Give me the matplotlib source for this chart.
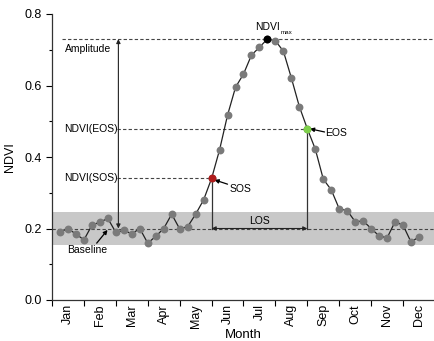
import matplotlib
matplotlib.use('Agg')
import matplotlib.pyplot as plt
import numpy as np

plt.rcParams['font.family'] = ['Liberation Sans', 'DejaVu Sans']

# 8-day composites, position in months (i * 0.25)
months = ['Jan', 'Feb', 'Mar', 'Apr', 'May', 'Jun', 'Jul', 'Aug', 'Sep', 'Oct', 'Nov', 'Dec']
ndvi = [0.191, 0.199, 0.185, 0.168, 0.209, 0.218, 0.228, 0.189, 0.195, 0.185,
        0.200, 0.159, 0.178, 0.200, 0.240, 0.199, 0.205, 0.240, 0.280, 0.340,
        0.420, 0.517, 0.595, 0.632, 0.685, 0.707, 0.730, 0.725, 0.696, 0.621,
        0.541, 0.479, 0.422, 0.338, 0.308, 0.255, 0.250, 0.219, 0.221, 0.200,
        0.179, 0.174, 0.219, 0.209, 0.162, 0.177]
t = [0.25 * (i + 1) for i in range(len(ndvi))]

baseline = 0.2
band = (0.155, 0.245)
i_sos, i_eos, i_max = 19, 31, 26

fig = plt.figure(figsize=(4.35, 3.41), dpi=100)
ax = fig.add_axes([52 / 435, 41 / 341, 383 / 435, 286 / 341])

ax.axhspan(band[0], band[1], color='#c8c8c8', lw=0, zorder=0)

dash = dict(color='#444444', lw=0.8, ls=(0, (3, 2)), zorder=1)
x_sos, x_eos = t[i_sos], t[i_eos]
amp = ndvi[i_max]
ax.plot([0, 12], [baseline, baseline], **dash)
ax.plot([0.31, 12], [amp, amp], **dash)
ax.plot([2.05, x_eos], [ndvi[i_eos]] * 2, **dash)
ax.plot([2.05, x_sos], [ndvi[i_sos]] * 2, **dash)

# vertical markers for SOS / EOS
ax.plot([x_sos, x_sos], [baseline, ndvi[i_sos]], color='#333333', lw=0.9, zorder=1)
ax.plot([x_eos, x_eos], [baseline, ndvi[i_eos]], color='#333333', lw=0.9, zorder=1)

# the series
ax.plot(t, ndvi, color='#222222', lw=0.9, zorder=2)
ax.scatter(t, ndvi, s=32, color='#7a7a7a', lw=0, zorder=3)
ax.scatter([x_sos], [ndvi[i_sos]], s=32, color='#b01c1c', lw=0, zorder=4)
ax.scatter([x_eos], [ndvi[i_eos]], s=32, color='#7ed04a', lw=0, zorder=4)
ax.scatter([t[i_max]], [amp], s=32, color='black', lw=0, zorder=4)

arr = dict(arrowstyle='<|-|>', color='#222222', lw=0.8, mutation_scale=6, shrinkA=0, shrinkB=0)
ax.annotate('', xy=(2.08, amp), xytext=(2.08, baseline), arrowprops=arr, zorder=5)
ax.annotate('', xy=(x_eos, baseline), xytext=(x_sos, baseline), arrowprops=arr, zorder=5)

pt = dict(arrowstyle='-|>', color='black', lw=0.9, mutation_scale=6, shrinkA=0, shrinkB=0)
fs = 7.5
ax.text(0.42, 0.702, 'Amplitude', fontsize=fs, va='center', ha='left')
ax.text(2.05, ndvi[i_eos], 'NDVI(EOS)', fontsize=fs, va='center', ha='right')
ax.text(2.05, ndvi[i_sos], 'NDVI(SOS)', fontsize=fs, va='center', ha='right')
ax.text(0.47, 0.14, 'Baseline', fontsize=fs, va='center', ha='left')
ax.annotate('', xy=(1.74, 0.196), xytext=(1.40, 0.159), arrowprops=pt)
ax.text(5.56, 0.31, 'SOS', fontsize=fs, va='center', ha='left')
ax.annotate('', xy=(5.09, 0.336), xytext=(5.50, 0.324), arrowprops=pt)
ax.text(8.57, 0.467, 'EOS', fontsize=fs, va='center', ha='left')
ax.annotate('', xy=(8.08, 0.479), xytext=(8.54, 0.47), arrowprops=pt)
ax.text(6.37, 0.764, 'NDVI', fontsize=fs, va='center', ha='left')
ax.text(7.15, 0.748, 'max', fontsize=4.5, va='center', ha='left')
ax.text((x_sos + x_eos) / 2, 0.222, 'LOS', fontsize=fs, va='center', ha='center')

ax.set_xlim(0, 11.9)
ax.set_ylim(0, 0.8)
ax.set_xticks(np.arange(0, 13))
ax.set_xticklabels([])
ax.set_xticks(np.arange(12) + 0.5, minor=True)
ax.set_xticklabels(months, minor=True, rotation=90, fontsize=9)
ax.tick_params(axis='x', which='minor', length=0, pad=3)
ax.tick_params(axis='x', which='major', length=4, width=0.8)
ax.set_yticks([0.0, 0.2, 0.4, 0.6, 0.8])
ax.set_yticklabels(['0.0', '0.2', '0.4', '0.6', '0.8'], fontsize=9)
ax.set_yticks([0.1, 0.3, 0.5, 0.7], minor=True)
ax.tick_params(axis='y', which='major', length=4, width=0.8)
ax.tick_params(axis='y', which='minor', length=2, width=0.8)
for s in ['top', 'right']:
    ax.spines[s].set_visible(False)
for s in ['left', 'bottom']:
    ax.spines[s].set_color('#333333')
    ax.spines[s].set_linewidth(0.9)

ax.set_xlabel('Month', fontsize=9.5, labelpad=1)
ax.set_ylabel('NDVI', fontsize=9, labelpad=6)

fig.savefig('out.png', dpi=100)
